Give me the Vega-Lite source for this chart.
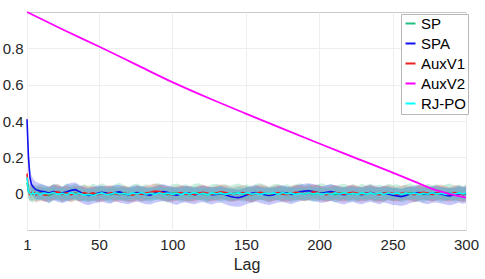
{
"$schema": "https://vega.github.io/schema/vega-lite/v6.json",
"width": 439, "height": 218,
"autosize": {"type": "none"},
"padding": {"left": 27, "top": 12, "right": 19, "bottom": 49},
"background": "white",
"config": {
 "view": {"stroke": "#c8c8c8", "strokeWidth": 1},
 "font": "Liberation Sans",
 "axis": {"domain": false, "ticks": false, "gridColor": "#eeeeee", "gridWidth": 1, "labelFont": "Liberation Sans", "labelFontSize": 15, "labelColor": "#262626", "titleFont": "Liberation Sans", "titleFontSize": 16, "titleFontWeight": "normal", "titleColor": "#262626"}
},
"datasets": {
 "acf": [
 {"lag":1,"SP":0.06,"SPA":0.41,"AuxV1":0.11,"RJ-PO":0.09,"sl":0.02,"sh":0.1,"pl":0.38,"ph":0.44,"al":0.07,"ah":0.15,"rl":0.06,"rh":0.12},
 {"lag":2,"SP":0.012,"SPA":0.2,"AuxV1":0.02,"RJ-PO":0.015,"sl":-0.03,"sh":0.06,"pl":0.15,"ph":0.25,"al":-0.02,"ah":0.06,"rl":-0.02,"rh":0.05},
 {"lag":3,"SP":0.004,"SPA":0.09,"AuxV1":-0.003,"RJ-PO":0.002,"sl":-0.04,"sh":0.05,"pl":0.04,"ph":0.14,"al":-0.045,"ah":0.04,"rl":-0.035,"rh":0.04},
 {"lag":4,"SP":0.0,"SPA":0.052,"AuxV1":0.006,"RJ-PO":-0.004,"sl":-0.045,"sh":0.05,"pl":0.0,"ph":0.1,"al":-0.035,"ah":0.05,"rl":-0.04,"rh":0.03},
 {"lag":5,"SP":-0.004,"SPA":0.04,"AuxV1":-0.002,"RJ-PO":0.005,"sl":-0.05,"sh":0.04,"pl":-0.01,"ph":0.085,"al":-0.04,"ah":0.04,"rl":-0.03,"rh":0.04},
 {"lag":6,"SP":0.003,"SPA":0.03,"AuxV1":0.004,"RJ-PO":-0.003,"sl":-0.04,"sh":0.05,"pl":-0.02,"ph":0.075,"al":-0.035,"ah":0.045,"rl":-0.04,"rh":0.035},
 {"lag":7,"SP":-0.002,"SPA":0.022,"AuxV1":-0.006,"RJ-PO":0.002,"sl":-0.045,"sh":0.045,"pl":-0.03,"ph":0.065,"al":-0.05,"ah":0.035,"rl":-0.035,"rh":0.04},
 {"lag":10,"SP":0.004,"SPA":0.014,"AuxV1":0.002,"RJ-PO":-0.004,"sl":-0.036,"sh":0.052,"pl":-0.032,"ph":0.056,"al":-0.04,"ah":0.04,"rl":-0.036,"rh":0.03},
 {"lag":13,"SP":-0.006,"SPA":0.01,"AuxV1":-0.008,"RJ-PO":0.003,"sl":-0.04,"sh":0.046,"pl":-0.042,"ph":0.048,"al":-0.046,"ah":0.03,"rl":-0.03,"rh":0.036},
 {"lag":16,"SP":-0.01,"SPA":0.004,"AuxV1":-0.004,"RJ-PO":-0.002,"sl":-0.054,"sh":0.034,"pl":-0.05,"ph":0.04,"al":-0.038,"ah":0.04,"rl":-0.034,"rh":0.034},
 {"lag":19,"SP":0.002,"SPA":0.012,"AuxV1":0.006,"RJ-PO":0.006,"sl":-0.036,"sh":0.056,"pl":-0.036,"ph":0.05,"al":-0.036,"ah":0.048,"rl":-0.026,"rh":0.04},
 {"lag":22,"SP":0.006,"SPA":0.008,"AuxV1":0.01,"RJ-PO":-0.004,"sl":-0.036,"sh":0.05,"pl":-0.046,"ph":0.044,"al":-0.03,"ah":0.054,"rl":-0.038,"rh":0.028},
 {"lag":25,"SP":-0.004,"SPA":0.004,"AuxV1":-0.002,"RJ-PO":0.002,"sl":-0.048,"sh":0.04,"pl":-0.052,"ph":0.038,"al":-0.042,"ah":0.036,"rl":-0.03,"rh":0.036},
 {"lag":28,"SP":0.003,"SPA":0.01,"AuxV1":0.004,"RJ-PO":-0.006,"sl":-0.035,"sh":0.058,"pl":-0.044,"ph":0.05,"al":-0.036,"ah":0.044,"rl":-0.04,"rh":0.026},
 {"lag":31,"SP":-0.002,"SPA":0.018,"AuxV1":-0.006,"RJ-PO":0.004,"sl":-0.044,"sh":0.046,"pl":-0.036,"ph":0.06,"al":-0.048,"ah":0.034,"rl":-0.03,"rh":0.04},
 {"lag":34,"SP":0.005,"SPA":0.022,"AuxV1":0.002,"RJ-PO":-0.003,"sl":-0.038,"sh":0.054,"pl":-0.03,"ph":0.062,"al":-0.036,"ah":0.044,"rl":-0.036,"rh":0.032},
 {"lag":37,"SP":-0.003,"SPA":0.01,"AuxV1":-0.004,"RJ-PO":0.001,"sl":-0.04,"sh":0.042,"pl":-0.046,"ph":0.046,"al":-0.044,"ah":0.038,"rl":-0.032,"rh":0.034},
 {"lag":40,"SP":0.002,"SPA":-0.004,"AuxV1":0.006,"RJ-PO":-0.008,"sl":-0.042,"sh":0.052,"pl":-0.058,"ph":0.036,"al":-0.034,"ah":0.046,"rl":-0.04,"rh":0.024},
 {"lag":43,"SP":-0.006,"SPA":-0.01,"AuxV1":-0.002,"RJ-PO":-0.004,"sl":-0.05,"sh":0.04,"pl":-0.064,"ph":0.03,"al":-0.04,"ah":0.042,"rl":-0.036,"rh":0.03},
 {"lag":46,"SP":0.004,"SPA":-0.006,"AuxV1":0.004,"RJ-PO":-0.01,"sl":-0.034,"sh":0.056,"pl":-0.054,"ph":0.038,"al":-0.04,"ah":0.04,"rl":-0.044,"rh":0.024},
 {"lag":49,"SP":-0.002,"SPA":0.002,"AuxV1":-0.006,"RJ-PO":-0.002,"sl":-0.046,"sh":0.044,"pl":-0.05,"ph":0.044,"al":-0.042,"ah":0.036,"rl":-0.032,"rh":0.034},
 {"lag":52,"SP":0.006,"SPA":0.008,"AuxV1":0.002,"RJ-PO":0.004,"sl":-0.036,"sh":0.058,"pl":-0.044,"ph":0.044,"al":-0.044,"ah":0.04,"rl":-0.028,"rh":0.04},
 {"lag":55,"SP":0.0,"SPA":0.004,"AuxV1":-0.004,"RJ-PO":-0.006,"sl":-0.04,"sh":0.046,"pl":-0.052,"ph":0.04,"al":-0.036,"ah":0.042,"rl":-0.038,"rh":0.03},
 {"lag":58,"SP":-0.005,"SPA":-0.002,"AuxV1":0.006,"RJ-PO":-0.002,"sl":-0.048,"sh":0.042,"pl":-0.056,"ph":0.04,"al":-0.03,"ah":0.048,"rl":-0.034,"rh":0.032},
 {"lag":61,"SP":0.003,"SPA":0.006,"AuxV1":0.0,"RJ-PO":0.005,"sl":-0.037,"sh":0.052,"pl":-0.042,"ph":0.046,"al":-0.046,"ah":0.036,"rl":-0.028,"rh":0.038},
 {"lag":64,"SP":0.008,"SPA":0.01,"AuxV1":-0.006,"RJ-PO":-0.003,"sl":-0.034,"sh":0.06,"pl":-0.048,"ph":0.048,"al":-0.042,"ah":0.034,"rl":-0.036,"rh":0.032},
 {"lag":67,"SP":-0.002,"SPA":0.002,"AuxV1":0.004,"RJ-PO":0.002,"sl":-0.042,"sh":0.048,"pl":-0.054,"ph":0.038,"al":-0.036,"ah":0.046,"rl":-0.032,"rh":0.034},
 {"lag":70,"SP":-0.006,"SPA":-0.006,"AuxV1":-0.002,"RJ-PO":-0.004,"sl":-0.046,"sh":0.038,"pl":-0.058,"ph":0.034,"al":-0.044,"ah":0.038,"rl":-0.036,"rh":0.03},
 {"lag":73,"SP":0.002,"SPA":0.0,"AuxV1":-0.008,"RJ-PO":0.003,"sl":-0.04,"sh":0.05,"pl":-0.048,"ph":0.042,"al":-0.046,"ah":0.03,"rl":-0.03,"rh":0.036},
 {"lag":76,"SP":0.005,"SPA":0.006,"AuxV1":0.002,"RJ-PO":-0.002,"sl":-0.036,"sh":0.056,"pl":-0.044,"ph":0.046,"al":-0.038,"ah":0.044,"rl":-0.034,"rh":0.034},
 {"lag":79,"SP":-0.003,"SPA":0.004,"AuxV1":-0.004,"RJ-PO":0.006,"sl":-0.044,"sh":0.044,"pl":-0.052,"ph":0.04,"al":-0.04,"ah":0.038,"rl":-0.026,"rh":0.04},
 {"lag":82,"SP":0.001,"SPA":-0.004,"AuxV1":0.004,"RJ-PO":-0.003,"sl":-0.04,"sh":0.052,"pl":-0.058,"ph":0.036,"al":-0.036,"ah":0.044,"rl":-0.036,"rh":0.03},
 {"lag":85,"SP":-0.004,"SPA":-0.008,"AuxV1":0.008,"RJ-PO":0.002,"sl":-0.046,"sh":0.042,"pl":-0.06,"ph":0.032,"al":-0.032,"ah":0.05,"rl":-0.032,"rh":0.036},
 {"lag":88,"SP":0.004,"SPA":0.002,"AuxV1":0.014,"RJ-PO":-0.004,"sl":-0.034,"sh":0.054,"pl":-0.05,"ph":0.04,"al":-0.026,"ah":0.056,"rl":-0.038,"rh":0.03},
 {"lag":91,"SP":0.007,"SPA":0.008,"AuxV1":0.012,"RJ-PO":0.005,"sl":-0.036,"sh":0.058,"pl":-0.044,"ph":0.048,"al":-0.03,"ah":0.052,"rl":-0.028,"rh":0.04},
 {"lag":94,"SP":-0.002,"SPA":0.012,"AuxV1":0.004,"RJ-PO":-0.002,"sl":-0.042,"sh":0.046,"pl":-0.04,"ph":0.052,"al":-0.038,"ah":0.044,"rl":-0.034,"rh":0.032},
 {"lag":97,"SP":-0.006,"SPA":0.006,"AuxV1":-0.002,"RJ-PO":0.003,"sl":-0.048,"sh":0.04,"pl":-0.046,"ph":0.044,"al":-0.042,"ah":0.04,"rl":-0.03,"rh":0.036},
 {"lag":100,"SP":0.002,"SPA":-0.004,"AuxV1":-0.006,"RJ-PO":-0.004,"sl":-0.038,"sh":0.05,"pl":-0.056,"ph":0.038,"al":-0.044,"ah":0.034,"rl":-0.036,"rh":0.03},
 {"lag":103,"SP":0.006,"SPA":-0.008,"AuxV1":0.002,"RJ-PO":0.002,"sl":-0.036,"sh":0.056,"pl":-0.062,"ph":0.034,"al":-0.038,"ah":0.042,"rl":-0.032,"rh":0.036},
 {"lag":106,"SP":-0.003,"SPA":-0.002,"AuxV1":0.006,"RJ-PO":-0.005,"sl":-0.044,"sh":0.046,"pl":-0.052,"ph":0.04,"al":-0.034,"ah":0.048,"rl":-0.038,"rh":0.028},
 {"lag":109,"SP":0.002,"SPA":0.004,"AuxV1":-0.004,"RJ-PO":0.004,"sl":-0.04,"sh":0.052,"pl":-0.048,"ph":0.044,"al":-0.042,"ah":0.038,"rl":-0.028,"rh":0.038},
 {"lag":112,"SP":-0.005,"SPA":0.002,"AuxV1":0.002,"RJ-PO":-0.002,"sl":-0.046,"sh":0.042,"pl":-0.054,"ph":0.04,"al":-0.04,"ah":0.042,"rl":-0.034,"rh":0.032},
 {"lag":115,"SP":0.003,"SPA":-0.006,"AuxV1":-0.006,"RJ-PO":0.006,"sl":-0.036,"sh":0.054,"pl":-0.058,"ph":0.034,"al":-0.044,"ah":0.036,"rl":-0.026,"rh":0.04},
 {"lag":118,"SP":0.006,"SPA":-0.002,"AuxV1":0.004,"RJ-PO":-0.003,"sl":-0.034,"sh":0.058,"pl":-0.05,"ph":0.04,"al":-0.036,"ah":0.046,"rl":-0.036,"rh":0.03},
 {"lag":121,"SP":-0.002,"SPA":0.004,"AuxV1":0.008,"RJ-PO":0.002,"sl":-0.042,"sh":0.046,"pl":-0.046,"ph":0.044,"al":-0.032,"ah":0.05,"rl":-0.032,"rh":0.034},
 {"lag":124,"SP":-0.006,"SPA":0.0,"AuxV1":0.002,"RJ-PO":-0.005,"sl":-0.048,"sh":0.04,"pl":-0.054,"ph":0.038,"al":-0.04,"ah":0.042,"rl":-0.038,"rh":0.028},
 {"lag":127,"SP":0.002,"SPA":-0.006,"AuxV1":-0.004,"RJ-PO":0.003,"sl":-0.038,"sh":0.052,"pl":-0.06,"ph":0.036,"al":-0.042,"ah":0.036,"rl":-0.03,"rh":0.036},
 {"lag":130,"SP":0.004,"SPA":-0.004,"AuxV1":0.004,"RJ-PO":-0.002,"sl":-0.036,"sh":0.054,"pl":-0.052,"ph":0.038,"al":-0.038,"ah":0.044,"rl":-0.034,"rh":0.032},
 {"lag":133,"SP":-0.002,"SPA":0.002,"AuxV1":0.01,"RJ-PO":0.004,"sl":-0.044,"sh":0.046,"pl":-0.048,"ph":0.042,"al":-0.03,"ah":0.052,"rl":-0.028,"rh":0.038},
 {"lag":136,"SP":0.003,"SPA":-0.006,"AuxV1":0.006,"RJ-PO":-0.004,"sl":-0.038,"sh":0.052,"pl":-0.058,"ph":0.036,"al":-0.034,"ah":0.048,"rl":-0.036,"rh":0.03},
 {"lag":139,"SP":-0.004,"SPA":-0.014,"AuxV1":0.0,"RJ-PO":0.002,"sl":-0.046,"sh":0.044,"pl":-0.066,"ph":0.028,"al":-0.04,"ah":0.04,"rl":-0.032,"rh":0.036},
 {"lag":142,"SP":0.002,"SPA":-0.02,"AuxV1":-0.004,"RJ-PO":-0.003,"sl":-0.04,"sh":0.05,"pl":-0.07,"ph":0.024,"al":-0.044,"ah":0.036,"rl":-0.036,"rh":0.03},
 {"lag":145,"SP":0.005,"SPA":-0.022,"AuxV1":0.002,"RJ-PO":0.004,"sl":-0.036,"sh":0.056,"pl":-0.072,"ph":0.022,"al":-0.038,"ah":0.042,"rl":-0.03,"rh":0.038},
 {"lag":148,"SP":-0.003,"SPA":-0.016,"AuxV1":0.006,"RJ-PO":-0.002,"sl":-0.044,"sh":0.046,"pl":-0.066,"ph":0.028,"al":-0.034,"ah":0.046,"rl":-0.034,"rh":0.032},
 {"lag":151,"SP":0.001,"SPA":-0.006,"AuxV1":-0.002,"RJ-PO":0.005,"sl":-0.04,"sh":0.05,"pl":-0.056,"ph":0.036,"al":-0.042,"ah":0.04,"rl":-0.028,"rh":0.04},
 {"lag":154,"SP":-0.005,"SPA":0.002,"AuxV1":-0.006,"RJ-PO":-0.003,"sl":-0.048,"sh":0.042,"pl":-0.05,"ph":0.042,"al":-0.046,"ah":0.034,"rl":-0.036,"rh":0.03},
 {"lag":157,"SP":0.004,"SPA":0.006,"AuxV1":0.002,"RJ-PO":0.002,"sl":-0.036,"sh":0.054,"pl":-0.044,"ph":0.046,"al":-0.04,"ah":0.044,"rl":-0.032,"rh":0.036},
 {"lag":160,"SP":0.006,"SPA":0.0,"AuxV1":0.008,"RJ-PO":-0.004,"sl":-0.034,"sh":0.058,"pl":-0.052,"ph":0.04,"al":-0.032,"ah":0.05,"rl":-0.038,"rh":0.03},
 {"lag":163,"SP":-0.002,"SPA":-0.006,"AuxV1":0.004,"RJ-PO":0.003,"sl":-0.042,"sh":0.048,"pl":-0.058,"ph":0.036,"al":-0.036,"ah":0.046,"rl":-0.03,"rh":0.036},
 {"lag":166,"SP":-0.006,"SPA":-0.01,"AuxV1":-0.004,"RJ-PO":-0.002,"sl":-0.048,"sh":0.04,"pl":-0.062,"ph":0.032,"al":-0.044,"ah":0.036,"rl":-0.034,"rh":0.032},
 {"lag":169,"SP":0.002,"SPA":-0.006,"AuxV1":0.002,"RJ-PO":0.004,"sl":-0.038,"sh":0.052,"pl":-0.056,"ph":0.036,"al":-0.04,"ah":0.042,"rl":-0.028,"rh":0.038},
 {"lag":172,"SP":0.004,"SPA":0.002,"AuxV1":0.006,"RJ-PO":-0.003,"sl":-0.036,"sh":0.054,"pl":-0.048,"ph":0.042,"al":-0.034,"ah":0.048,"rl":-0.036,"rh":0.03},
 {"lag":175,"SP":-0.003,"SPA":0.006,"AuxV1":-0.002,"RJ-PO":0.006,"sl":-0.044,"sh":0.044,"pl":-0.046,"ph":0.046,"al":-0.042,"ah":0.04,"rl":-0.026,"rh":0.04},
 {"lag":178,"SP":0.003,"SPA":0.002,"AuxV1":-0.006,"RJ-PO":-0.002,"sl":-0.038,"sh":0.052,"pl":-0.052,"ph":0.04,"al":-0.046,"ah":0.034,"rl":-0.034,"rh":0.032},
 {"lag":181,"SP":-0.004,"SPA":-0.004,"AuxV1":0.002,"RJ-PO":0.003,"sl":-0.046,"sh":0.044,"pl":-0.058,"ph":0.036,"al":-0.038,"ah":0.042,"rl":-0.03,"rh":0.036},
 {"lag":184,"SP":0.002,"SPA":0.004,"AuxV1":0.008,"RJ-PO":-0.004,"sl":-0.04,"sh":0.05,"pl":-0.048,"ph":0.044,"al":-0.032,"ah":0.05,"rl":-0.036,"rh":0.03},
 {"lag":187,"SP":0.006,"SPA":0.01,"AuxV1":0.004,"RJ-PO":0.002,"sl":-0.034,"sh":0.058,"pl":-0.042,"ph":0.05,"al":-0.036,"ah":0.046,"rl":-0.032,"rh":0.034},
 {"lag":190,"SP":-0.002,"SPA":0.014,"AuxV1":-0.002,"RJ-PO":-0.003,"sl":-0.042,"sh":0.046,"pl":-0.036,"ph":0.054,"al":-0.042,"ah":0.04,"rl":-0.036,"rh":0.03},
 {"lag":193,"SP":0.004,"SPA":0.016,"AuxV1":0.004,"RJ-PO":0.005,"sl":-0.036,"sh":0.054,"pl":-0.036,"ph":0.058,"al":-0.036,"ah":0.044,"rl":-0.028,"rh":0.04},
 {"lag":196,"SP":-0.004,"SPA":0.012,"AuxV1":0.01,"RJ-PO":-0.002,"sl":-0.046,"sh":0.044,"pl":-0.04,"ph":0.052,"al":-0.03,"ah":0.052,"rl":-0.034,"rh":0.032},
 {"lag":199,"SP":0.002,"SPA":0.006,"AuxV1":0.006,"RJ-PO":0.003,"sl":-0.04,"sh":0.052,"pl":-0.046,"ph":0.046,"al":-0.034,"ah":0.048,"rl":-0.03,"rh":0.036},
 {"lag":202,"SP":0.006,"SPA":0.002,"AuxV1":-0.002,"RJ-PO":-0.004,"sl":-0.036,"sh":0.058,"pl":-0.052,"ph":0.04,"al":-0.042,"ah":0.04,"rl":-0.036,"rh":0.03},
 {"lag":205,"SP":-0.002,"SPA":0.008,"AuxV1":-0.006,"RJ-PO":0.002,"sl":-0.042,"sh":0.046,"pl":-0.044,"ph":0.048,"al":-0.046,"ah":0.034,"rl":-0.032,"rh":0.034},
 {"lag":208,"SP":0.003,"SPA":0.012,"AuxV1":0.002,"RJ-PO":-0.003,"sl":-0.038,"sh":0.052,"pl":-0.04,"ph":0.052,"al":-0.038,"ah":0.042,"rl":-0.036,"rh":0.03},
 {"lag":211,"SP":-0.005,"SPA":0.006,"AuxV1":0.006,"RJ-PO":0.004,"sl":-0.048,"sh":0.042,"pl":-0.046,"ph":0.046,"al":-0.034,"ah":0.048,"rl":-0.028,"rh":0.038},
 {"lag":214,"SP":0.002,"SPA":-0.002,"AuxV1":0.002,"RJ-PO":-0.002,"sl":-0.04,"sh":0.05,"pl":-0.054,"ph":0.038,"al":-0.04,"ah":0.042,"rl":-0.034,"rh":0.032},
 {"lag":217,"SP":0.005,"SPA":-0.006,"AuxV1":-0.004,"RJ-PO":0.005,"sl":-0.036,"sh":0.056,"pl":-0.06,"ph":0.034,"al":-0.044,"ah":0.036,"rl":-0.028,"rh":0.04},
 {"lag":220,"SP":-0.003,"SPA":0.0,"AuxV1":0.004,"RJ-PO":-0.003,"sl":-0.044,"sh":0.044,"pl":-0.05,"ph":0.042,"al":-0.036,"ah":0.046,"rl":-0.036,"rh":0.03},
 {"lag":223,"SP":0.002,"SPA":0.004,"AuxV1":0.008,"RJ-PO":0.002,"sl":-0.04,"sh":0.052,"pl":-0.046,"ph":0.044,"al":-0.032,"ah":0.05,"rl":-0.032,"rh":0.034},
 {"lag":226,"SP":-0.004,"SPA":-0.002,"AuxV1":0.002,"RJ-PO":-0.004,"sl":-0.046,"sh":0.042,"pl":-0.054,"ph":0.038,"al":-0.04,"ah":0.042,"rl":-0.036,"rh":0.03},
 {"lag":229,"SP":0.004,"SPA":-0.006,"AuxV1":-0.004,"RJ-PO":0.003,"sl":-0.036,"sh":0.054,"pl":-0.058,"ph":0.036,"al":-0.044,"ah":0.036,"rl":-0.03,"rh":0.036},
 {"lag":232,"SP":-0.002,"SPA":0.002,"AuxV1":0.002,"RJ-PO":-0.002,"sl":-0.042,"sh":0.046,"pl":-0.05,"ph":0.042,"al":-0.038,"ah":0.044,"rl":-0.034,"rh":0.032},
 {"lag":235,"SP":0.005,"SPA":0.006,"AuxV1":0.006,"RJ-PO":0.004,"sl":-0.036,"sh":0.056,"pl":-0.044,"ph":0.046,"al":-0.034,"ah":0.048,"rl":-0.028,"rh":0.038},
 {"lag":238,"SP":-0.003,"SPA":0.0,"AuxV1":-0.002,"RJ-PO":-0.003,"sl":-0.044,"sh":0.044,"pl":-0.052,"ph":0.04,"al":-0.042,"ah":0.04,"rl":-0.036,"rh":0.03},
 {"lag":241,"SP":0.002,"SPA":-0.004,"AuxV1":-0.006,"RJ-PO":0.002,"sl":-0.04,"sh":0.05,"pl":-0.058,"ph":0.036,"al":-0.046,"ah":0.034,"rl":-0.032,"rh":0.034},
 {"lag":244,"SP":-0.004,"SPA":0.002,"AuxV1":0.002,"RJ-PO":-0.004,"sl":-0.046,"sh":0.042,"pl":-0.048,"ph":0.042,"al":-0.04,"ah":0.042,"rl":-0.036,"rh":0.03},
 {"lag":247,"SP":0.004,"SPA":-0.002,"AuxV1":0.006,"RJ-PO":0.005,"sl":-0.036,"sh":0.054,"pl":-0.054,"ph":0.038,"al":-0.034,"ah":0.048,"rl":-0.028,"rh":0.04},
 {"lag":250,"SP":-0.002,"SPA":-0.008,"AuxV1":0.002,"RJ-PO":-0.002,"sl":-0.042,"sh":0.048,"pl":-0.062,"ph":0.032,"al":-0.04,"ah":0.042,"rl":-0.034,"rh":0.032},
 {"lag":253,"SP":0.003,"SPA":-0.012,"AuxV1":-0.004,"RJ-PO":0.003,"sl":-0.038,"sh":0.052,"pl":-0.064,"ph":0.03,"al":-0.044,"ah":0.036,"rl":-0.03,"rh":0.036},
 {"lag":256,"SP":-0.005,"SPA":-0.016,"AuxV1":0.002,"RJ-PO":-0.003,"sl":-0.048,"sh":0.042,"pl":-0.068,"ph":0.026,"al":-0.038,"ah":0.044,"rl":-0.036,"rh":0.03},
 {"lag":259,"SP":0.002,"SPA":-0.01,"AuxV1":0.006,"RJ-PO":0.004,"sl":-0.04,"sh":0.05,"pl":-0.062,"ph":0.032,"al":-0.034,"ah":0.048,"rl":-0.028,"rh":0.038},
 {"lag":262,"SP":0.006,"SPA":-0.002,"AuxV1":-0.002,"RJ-PO":-0.002,"sl":-0.034,"sh":0.058,"pl":-0.052,"ph":0.04,"al":-0.042,"ah":0.04,"rl":-0.034,"rh":0.032},
 {"lag":265,"SP":-0.003,"SPA":0.004,"AuxV1":-0.006,"RJ-PO":0.003,"sl":-0.044,"sh":0.046,"pl":-0.046,"ph":0.044,"al":-0.046,"ah":0.034,"rl":-0.03,"rh":0.036},
 {"lag":268,"SP":0.002,"SPA":0.006,"AuxV1":0.004,"RJ-PO":-0.004,"sl":-0.04,"sh":0.05,"pl":-0.044,"ph":0.046,"al":-0.036,"ah":0.046,"rl":-0.036,"rh":0.03},
 {"lag":271,"SP":-0.004,"SPA":0.0,"AuxV1":0.008,"RJ-PO":0.002,"sl":-0.046,"sh":0.042,"pl":-0.054,"ph":0.038,"al":-0.032,"ah":0.05,"rl":-0.032,"rh":0.034},
 {"lag":274,"SP":0.004,"SPA":-0.004,"AuxV1":0.002,"RJ-PO":-0.003,"sl":-0.036,"sh":0.054,"pl":-0.058,"ph":0.036,"al":-0.038,"ah":0.042,"rl":-0.036,"rh":0.03},
 {"lag":277,"SP":-0.002,"SPA":0.002,"AuxV1":-0.004,"RJ-PO":0.005,"sl":-0.042,"sh":0.046,"pl":-0.05,"ph":0.042,"al":-0.044,"ah":0.036,"rl":-0.028,"rh":0.04},
 {"lag":280,"SP":0.003,"SPA":0.004,"AuxV1":0.004,"RJ-PO":-0.002,"sl":-0.038,"sh":0.052,"pl":-0.048,"ph":0.044,"al":-0.036,"ah":0.046,"rl":-0.034,"rh":0.032},
 {"lag":283,"SP":-0.004,"SPA":-0.002,"AuxV1":0.008,"RJ-PO":0.003,"sl":-0.046,"sh":0.044,"pl":-0.054,"ph":0.038,"al":-0.032,"ah":0.05,"rl":-0.03,"rh":0.036},
 {"lag":286,"SP":0.002,"SPA":-0.008,"AuxV1":0.002,"RJ-PO":-0.004,"sl":-0.04,"sh":0.05,"pl":-0.06,"ph":0.034,"al":-0.04,"ah":0.042,"rl":-0.036,"rh":0.03},
 {"lag":289,"SP":0.005,"SPA":-0.012,"AuxV1":-0.004,"RJ-PO":0.002,"sl":-0.036,"sh":0.056,"pl":-0.064,"ph":0.03,"al":-0.044,"ah":0.036,"rl":-0.032,"rh":0.034},
 {"lag":292,"SP":-0.003,"SPA":-0.006,"AuxV1":0.006,"RJ-PO":-0.003,"sl":-0.044,"sh":0.044,"pl":-0.058,"ph":0.036,"al":-0.034,"ah":0.048,"rl":-0.036,"rh":0.03},
 {"lag":295,"SP":0.002,"SPA":0.0,"AuxV1":0.002,"RJ-PO":0.004,"sl":-0.04,"sh":0.05,"pl":-0.05,"ph":0.042,"al":-0.04,"ah":0.042,"rl":-0.028,"rh":0.038},
 {"lag":298,"SP":-0.004,"SPA":-0.004,"AuxV1":-0.006,"RJ-PO":-0.002,"sl":-0.046,"sh":0.042,"pl":-0.056,"ph":0.038,"al":-0.046,"ah":0.034,"rl":-0.034,"rh":0.032},
 {"lag":300,"SP":0.002,"SPA":-0.002,"AuxV1":0.002,"RJ-PO":0.003,"sl":-0.04,"sh":0.05,"pl":-0.052,"ph":0.04,"al":-0.04,"ah":0.042,"rl":-0.03,"rh":0.036}
 ],
 "aux2": [
 {"lag":1,"series":"AuxV2","acf":1.0},
 {"lag":25,"series":"AuxV2","acf":0.905},
 {"lag":50,"series":"AuxV2","acf":0.81},
 {"lag":75,"series":"AuxV2","acf":0.712},
 {"lag":100,"series":"AuxV2","acf":0.614},
 {"lag":125,"series":"AuxV2","acf":0.525},
 {"lag":150,"series":"AuxV2","acf":0.441},
 {"lag":175,"series":"AuxV2","acf":0.358},
 {"lag":200,"series":"AuxV2","acf":0.276},
 {"lag":225,"series":"AuxV2","acf":0.196},
 {"lag":250,"series":"AuxV2","acf":0.116},
 {"lag":265,"series":"AuxV2","acf":0.066},
 {"lag":280,"series":"AuxV2","acf":0.018},
 {"lag":290,"series":"AuxV2","acf":-0.004},
 {"lag":300,"series":"AuxV2","acf":-0.022}
 ]
},
"encoding": {
 "x": {"field": "lag", "type": "quantitative", "scale": {"domain": [1, 300], "nice": false, "zero": false}, "axis": {"values": [1, 50, 100, 150, 200, 250, 300], "format": "d", "title": "Lag", "labelPadding": 7, "titlePadding": 4, "labelFlush": false}}
},
"layer": [
 {"data": {"name": "acf"}, "mark": {"type": "area", "color": "#20c080", "opacity": 0.25},
  "encoding": {"y": {"field": "sl", "type": "quantitative", "scale": {"domain": [-0.2, 1], "nice": false, "zero": false}, "axis": {"values": [0, 0.2, 0.4, 0.6, 0.8], "format": "~g", "title": null, "labelPadding": 4}}, "y2": {"field": "sh"}}},
 {"data": {"name": "acf"}, "mark": {"type": "area", "color": "#2020f0", "opacity": 0.25},
  "encoding": {"y": {"field": "pl", "type": "quantitative"}, "y2": {"field": "ph"}}},
 {"data": {"name": "acf"}, "mark": {"type": "area", "color": "#f02020", "opacity": 0.18},
  "encoding": {"y": {"field": "al", "type": "quantitative"}, "y2": {"field": "ah"}}},
 {"data": {"name": "acf"}, "mark": {"type": "area", "color": "#00e0e0", "opacity": 0.25},
  "encoding": {"y": {"field": "rl", "type": "quantitative"}, "y2": {"field": "rh"}}},
 {"data": {"name": "acf"}, "transform": [{"fold": ["SP", "SPA", "AuxV1", "RJ-PO"], "as": ["series", "acf"]}],
  "mark": {"type": "line", "strokeWidth": 1.6},
  "encoding": {"y": {"field": "acf", "type": "quantitative"},
   "color": {"field": "series", "type": "nominal", "sort": null,
    "scale": {"domain": ["SP", "SPA", "AuxV1", "AuxV2", "RJ-PO"], "range": ["#20c080", "#1010f0", "#f02020", "#ff00ff", "#00ffff"]},
    "legend": {"orient": "none", "legendX": 374, "legendY": 2, "title": null, "symbolType": "stroke", "symbolSize": 100, "symbolStrokeWidth": 2, "labelFontSize": 15, "labelFont": "Liberation Sans", "labelColor": "#000000", "fillColor": "#ffffff", "strokeColor": "#b8b8b8", "padding": 2, "rowPadding": 4, "labelOffset": 3, "cornerRadius": 0}}}},
 {"data": {"name": "aux2"}, "mark": {"type": "line", "strokeWidth": 1.8, "interpolate": "monotone"},
  "encoding": {"y": {"field": "acf", "type": "quantitative"}, "color": {"field": "series", "type": "nominal"}}}
]
}
